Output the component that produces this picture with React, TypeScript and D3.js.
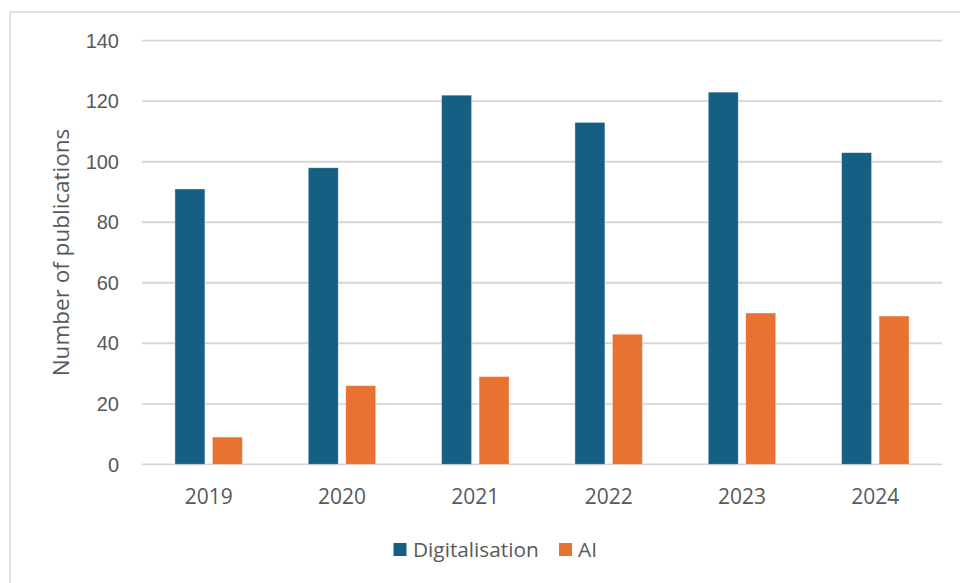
import React from "react";
import * as d3 from "d3";

// Publications per year, by topic
const years = ["2019", "2020", "2021", "2022", "2023", "2024"];
const seriesNames = ["Digitalisation", "AI"];
const digitalisation = [91, 98, 122, 113, 123, 103];
const ai = [9, 26, 29, 43, 50, 49];
const yTicks = [0, 20, 40, 60, 80, 100, 120, 140];

const colors: Record<string, string> = {
  Digitalisation: "#156082",
  AI: "#E97132",
};

const W = 960;
const H = 583;
const plot = { left: 142, right: 942, top: 40.7, bottom: 464.3 };

export default function App() {
  const x0 = d3
    .scaleBand<string>()
    .domain(years)
    .range([plot.left, plot.right])
    .paddingInner(0.494)
    .paddingOuter(0.247);

  const x1 = d3
    .scaleBand<string>()
    .domain(seriesNames)
    .range([0, x0.bandwidth()])
    .paddingInner(0.2);

  const y = d3.scaleLinear().domain([0, 140]).range([plot.bottom, plot.top]);

  const rows = years.map((yr, i) => ({
    year: yr,
    values: [
      { key: "Digitalisation", value: digitalisation[i] },
      { key: "AI", value: ai[i] },
    ],
  }));

  const tickFont = "'Liberation Sans', Arial, sans-serif";
  const labelFont = "'Open Sans', sans-serif";
  const textColor = "#595959";

  return (
    <svg
      width={W}
      height={H}
      viewBox={`0 0 ${W} ${H}`}
      style={{ position: "fixed", left: 0, top: 0, background: "#fff" }}
    >
      <rect x={0} y={0} width={W} height={H} fill="#fff" />
      {/* chart frame */}
      <rect
        x={10}
        y={12}
        width={W + 20}
        height={H + 20}
        fill="none"
        stroke="#d9d9d9"
        strokeWidth={1.5}
      />

      {/* gridlines */}
      {yTicks.map((t) => (
        <line
          key={`g${t}`}
          x1={plot.left}
          x2={plot.right}
          y1={y(t)}
          y2={y(t)}
          stroke="#d6d6d6"
          strokeWidth={1.8}
        />
      ))}

      {/* y tick labels */}
      {yTicks.map((t) => (
        <text
          key={`t${t}`}
          x={119}
          y={y(t)}
          dy="0.36em"
          textAnchor="end"
          fontFamily={tickFont}
          fontSize={20}
          fill={textColor}
        >
          {t}
        </text>
      ))}

      {/* bars */}
      {rows.map((r) => (
        <g key={r.year} transform={`translate(${x0(r.year)},0)`}>
          {r.values.map((v) => (
            <rect
              key={v.key}
              x={x1(v.key)}
              y={y(v.value)}
              width={x1.bandwidth()}
              height={y(0) - y(v.value)}
              fill={colors[v.key]}
              stroke="#ffffff"
              strokeOpacity={0.5}
              strokeWidth={0.75}
            />
          ))}
        </g>
      ))}

      {/* x tick labels */}
      {years.map((yr) => (
        <text
          key={`x${yr}`}
          x={(x0(yr) as number) + x0.bandwidth() / 2}
          y={504}
          textAnchor="middle"
          fontFamily={labelFont}
          fontSize={21}
          fill={textColor}
        >
          {yr}
        </text>
      ))}

      {/* y axis title */}
      <text
        transform={`translate(69,${(plot.top + plot.bottom) / 2}) rotate(-90)`}
        textAnchor="middle"
        fontFamily={labelFont}
        fontSize={22.5}
        fill={textColor}
      >
        Number of publications
      </text>

      {/* legend */}
      <g>
        <rect x={393.5} y={543} width={13} height={13} fill={colors.Digitalisation} />
        <text x={413} y={557} fontFamily={labelFont} fontSize={20.8} fill={textColor}>
          Digitalisation
        </text>
        <rect x={559} y={543} width={13} height={13} fill={colors.AI} />
        <text x={578} y={557} fontFamily={labelFont} fontSize={20.8} fill={textColor}>
          AI
        </text>
      </g>
    </svg>
  );
}
